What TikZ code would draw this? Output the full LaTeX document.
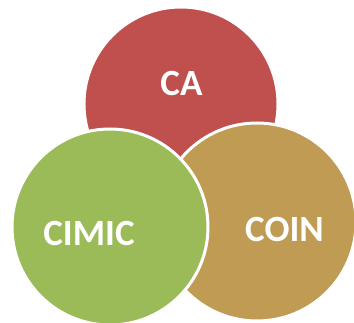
\documentclass[tikz,border=0pt]{standalone}
\usepackage{fontspec}
\setmainfont{Carlito}
\definecolor{caRed}{HTML}{C0504D}
\definecolor{cimicGreen}{HTML}{9BBB59}
\definecolor{coinTan}{HTML}{BF9B54}
\begin{document}
\begin{tikzpicture}[x=1pt,y=-1pt,
  disc/.style={circle, draw=white, line width=3pt, inner sep=0pt, minimum size=#1},
  label/.style={text=white, font=\fontsize{37}{42}\selectfont\bfseries, inner sep=0pt}]
  \useasboundingbox (0,0) rectangle (354,323);
  \begin{scope}
    \clip (0,0) rectangle (354,323);
    % back to front: CA, COIN, CIMIC
    \node[disc=194pt, fill=caRed] (ca) at (181,104) {};
    \node[disc=198pt, fill=coinTan] (coin) at (257,222) {};
    \node[disc=196pt, fill=cimicGreen] (cimic) at (110,227) {};
  \end{scope}
  \node[label] (tca) at (181.5,83) {CA};
  \node[label] (tcimic) at (89,233) {CIMIC};
  \node[label] (tcoin) at (284.5,229) {COIN};
\end{tikzpicture}
\end{document}
